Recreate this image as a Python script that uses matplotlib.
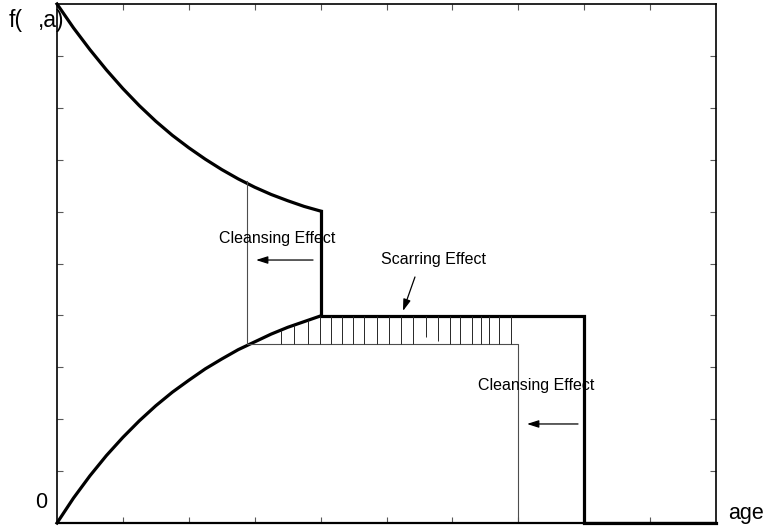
import numpy as np
import matplotlib.pyplot as plt

plt.rcParams['font.family'] = ['Liberation Sans', 'DejaVu Sans']

# upper branch f(age), before the first drop
upper_x = [0.0, 0.025, 0.05, 0.075, 0.1, 0.125, 0.15, 0.175, 0.2, 0.225,
           0.25, 0.275, 0.3, 0.325, 0.35, 0.375, 0.4]
upper_y = [1.0, 0.954, 0.912, 0.873, 0.837, 0.804, 0.774, 0.747, 0.723, 0.701,
           0.681, 0.663, 0.647, 0.633, 0.621, 0.610, 0.601]

# lower branch rising from the origin
lower_x = [0.0, 0.025, 0.05, 0.075, 0.1, 0.125, 0.15, 0.175, 0.2, 0.225,
           0.25, 0.275, 0.3, 0.325, 0.35, 0.375, 0.4]
lower_y = [0.0, 0.048, 0.091, 0.130, 0.165, 0.197, 0.226, 0.252, 0.275, 0.297,
           0.316, 0.334, 0.349, 0.364, 0.377, 0.388, 0.399]

# plateau and final drop
step_x = [0.4, 0.4, 0.8, 0.8, 1.0]
step_y = [0.601, 0.399, 0.399, 0.0, 0.0]

# thin guide lines (cleansing boundaries)
guide_x = [0.289, 0.289, 0.7, 0.7]
guide_y = [0.659, 0.345, 0.345, 0.0]

# scarring hatch
hatch_x = [0.3395, 0.3596, 0.3804, 0.399, 0.4153, 0.432, 0.4487, 0.4663, 0.4851,
           0.5038, 0.5225, 0.5402, 0.5595, 0.5781, 0.5964, 0.6115, 0.6293,
           0.643, 0.656, 0.6712, 0.6885]
hatch_top = [0.372, 0.381, 0.391, 0.399, 0.399, 0.399, 0.399, 0.399, 0.399,
             0.399, 0.399, 0.399, 0.399, 0.399, 0.399, 0.399, 0.399,
             0.399, 0.399, 0.399, 0.399]
hatch_bot = [0.345, 0.345, 0.345, 0.345, 0.345, 0.345, 0.345, 0.345, 0.345,
             0.345, 0.345, 0.345, 0.358, 0.351, 0.345, 0.345, 0.345,
             0.345, 0.345, 0.345, 0.345]

xtick_pos = [0.1, 0.2, 0.3, 0.4, 0.5, 0.6, 0.7, 0.8, 0.9]
ytick_pos = [0.1, 0.2, 0.3, 0.4, 0.5, 0.6, 0.7, 0.8, 0.9]

labels = ['Cleansing Effect', 'Scarring Effect', 'Cleansing Effect']
label_x = [0.3346, 0.571, 0.7276]
label_y = [0.549, 0.507, 0.264]

# arrows: (tail, head)
arrows = [((0.3885, 0.5067), (0.302, 0.5067)),
          ((0.5432, 0.474), (0.525, 0.4085)),
          ((0.7906, 0.1908), (0.7132, 0.1908))]

W, H = 767, 529
fig = plt.figure(figsize=(W / 100, H / 100), dpi=100)
ax = fig.add_axes([57 / W, 6 / H, 659 / W, 519 / H])
ax.set_xlim(0, 1)
ax.set_ylim(0, 1)

thick = dict(color='black', lw=2.3, clip_on=False, solid_joinstyle='miter')
ax.plot(upper_x, upper_y, **thick)
ax.plot(lower_x, lower_y, **thick)
ax.plot(step_x, step_y, **thick)

ax.plot(guide_x, guide_y, color='0.3', lw=0.8)
ax.vlines(hatch_x, hatch_bot, hatch_top, color='0.15', lw=0.7)

for txt, tx, ty in zip(labels, label_x, label_y):
    ax.text(tx, ty, txt, ha='center', va='center', fontsize=11.5)

for (x0, y0), (x1, y1) in arrows:
    ax.annotate('', xy=(x1, y1), xytext=(x0, y0),
                arrowprops=dict(arrowstyle='-|>,head_length=0.5,head_width=0.16',
                                mutation_scale=14, color='black', lw=0.9,
                                shrinkA=0, shrinkB=0))

#----------- axes frame
ax.set_xticks(xtick_pos)
ax.set_yticks(ytick_pos)
ax.tick_params(direction='in', length=4, width=0.8, color='0.35',
               top=True, right=True, labelbottom=False, labelleft=False)
for side in ['left', 'right', 'top']:
    ax.spines[side].set_linewidth(1.2)
ax.spines['bottom'].set_linewidth(1.6)

# axis labels (the symbol inside f( ,a) is blank in the original)
fig.text(9 / W, 1 - 26.5 / H, 'f(', fontsize=16.5, ha='left', va='baseline')
fig.text(38 / W, 1 - 26.5 / H, ',a)', fontsize=16.5, ha='left', va='baseline')
fig.text(41.5 / W, 1 - 502.5 / H, '0', fontsize=15.5, ha='center', va='center')
fig.text(728 / W, 1 - 519 / H, 'age', fontsize=15.5, ha='left', va='baseline')

fig.savefig('out.png', dpi=100)
